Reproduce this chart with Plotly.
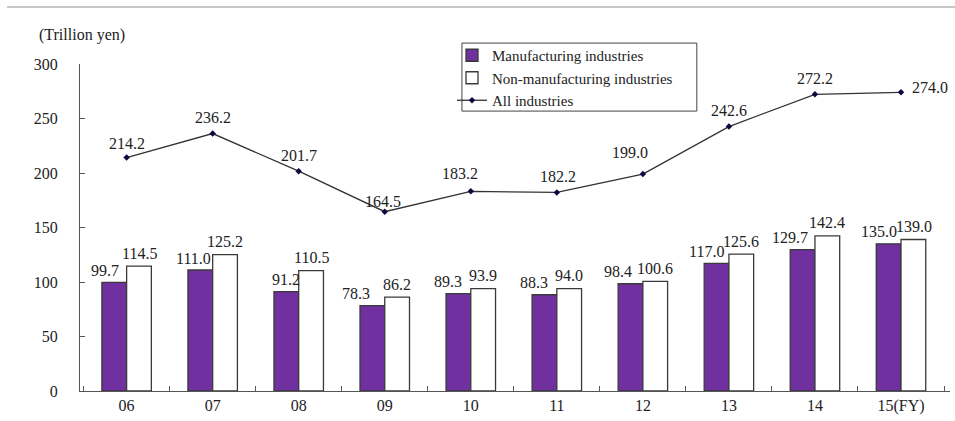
import plotly.graph_objects as go

years = ["06", "07", "08", "09", "10", "11", "12", "13", "14", "15(FY)"]
manufacturing = [99.7, 111.0, 91.2, 78.3, 89.3, 88.3, 98.4, 117.0, 129.7, 135.0]
non_manufacturing = [114.5, 125.2, 110.5, 86.2, 93.9, 94.0, 100.6, 125.6, 142.4, 139.0]
all_industries = [214.2, 236.2, 201.7, 164.5, 183.2, 182.2, 199.0, 242.6, 272.2, 274.0]

FONT = "'Liberation Serif', 'Times New Roman', Times, serif"
PURPLE = "#7030A0"
EDGE = "#3a3a3a"
TXT = "#222222"
FS = 16

fig = go.Figure()
fig.add_trace(go.Bar(x=years, y=manufacturing, name="Manufacturing industries",
                     marker=dict(color=PURPLE, line=dict(color=EDGE, width=1.3))))
fig.add_trace(go.Bar(x=years, y=non_manufacturing, name="Non-manufacturing industries",
                     marker=dict(color="white", line=dict(color=EDGE, width=1.3))))
fig.add_trace(go.Scatter(x=years, y=all_industries, name="All industries", mode="lines+markers",
                         line=dict(color="#333333", width=1.3),
                         marker=dict(color="#0a0a40", size=5, symbol="diamond")))

# label offsets (layout only)
m_xshift = [-9, -7, 0, -16, -10, -10, -12, -10, -12, -10]
l_xshift = [0, 0, 0, -2, -11, 1, -13, 0, 0, 29]
l_yshift = [14, 16, 16, 10, 18, 16, 22, 16, 16, 5]

ann = []
for i, c in enumerate(years):
    ann.append(dict(x=i, y=manufacturing[i], text=f"{manufacturing[i]:.1f}", showarrow=False,
                    xshift=-12.5 + m_xshift[i], yshift=12, yanchor="middle",
                    font=dict(family=FONT, size=FS, color=TXT)))
    ann.append(dict(x=i, y=non_manufacturing[i], text=f"{non_manufacturing[i]:.1f}", showarrow=False,
                    xshift=12.5, yshift=13, yanchor="middle",
                    font=dict(family=FONT, size=FS, color=TXT)))
    ann.append(dict(x=i, y=all_industries[i], text=f"{all_industries[i]:.1f}", showarrow=False,
                    xshift=l_xshift[i], yshift=l_yshift[i], yanchor="middle",
                    font=dict(family=FONT, size=FS, color=TXT)))
ann.append(dict(x=-0.049, y=1.089, xref="paper", yref="paper", text="(Trillion yen)", showarrow=False,
                xanchor="left", yanchor="middle",
                font=dict(family=FONT, size=FS, color=TXT)))

fig.update_layout(
    width=955, height=421,
    margin=dict(l=80, r=5, t=64, b=30),
    paper_bgcolor="white", plot_bgcolor="white",
    barmode="group", bargap=0.425, bargroupgap=0,
    font=dict(family=FONT, size=FS, color=TXT),
    showlegend=True,
    legend=dict(x=0.4276, y=1.0764, xanchor="left", yanchor="top",
                bgcolor="rgba(0,0,0,0)", borderwidth=0,
                font=dict(family=FONT, size=15, color=TXT),
                itemwidth=30, tracegroupgap=0),
    annotations=ann,
    shapes=[
        dict(type="line", xref="paper", yref="paper",
             x0=-0.0839, x1=1.01, y0=384 / 327, y1=384 / 327,
             line=dict(color="#c8c8c8", width=2)),
        dict(type="rect", xref="paper", yref="paper", layer="below",
             x0=0.439, x1=0.709, y0=0.856, y1=1.064,
             fillcolor="white", line=dict(color="#444444", width=1)),
    ],
)
fig.update_xaxes(type="category", showline=True, linecolor="#555555", linewidth=1.3,
                 ticks="inside", tickson="boundaries", ticklen=5, tickcolor="#555555",
                 showgrid=False, tickfont=dict(family=FONT, size=FS, color=TXT))
fig.update_yaxes(range=[0, 300], dtick=50, showline=True, linecolor="#555555", linewidth=1.3,
                 ticks="inside", ticklen=5, tickcolor="#555555", showgrid=False, zeroline=False,
                 tickfont=dict(family=FONT, size=FS, color=TXT), ticklabelstandoff=18)

fig.write_html("out.html", config={"displayModeBar": False},
               post_script="document.body.style.margin='0px';document.body.style.overflow='hidden';")
